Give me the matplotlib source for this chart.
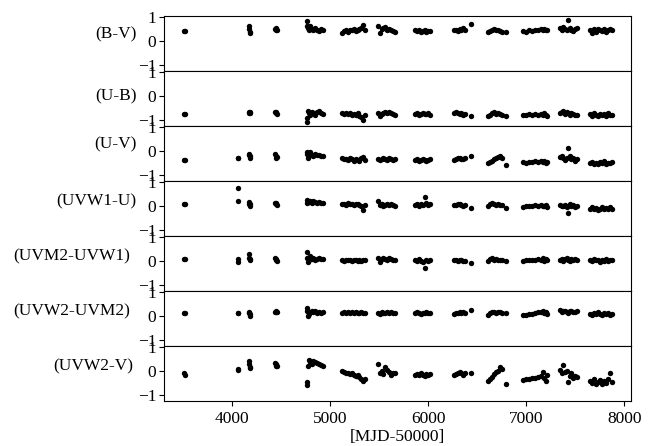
import numpy as np
import matplotlib
matplotlib.use("Agg")
import matplotlib.pyplot as plt

nan = np.nan

# observation epochs (MJD-50000)
mjd = [3515, 3522,
       4058, 4066,
       4170, 4175, 4180, 4185,
       4440, 4445, 4450, 4455,
       4762, 4768, 4775, 4785, 4800, 4815, 4830, 4850, 4870, 4890, 4910, 4930,
       5120, 5140, 5160, 5180, 5200, 5220, 5240, 5260, 5280, 5300, 5320, 5340, 5355,
       5490, 5505, 5525, 5545, 5565, 5585, 5605, 5625, 5645, 5660,
       5870, 5890, 5910, 5930, 5950, 5965, 5980, 6000, 6015,
       6260, 6280, 6300, 6320, 6340, 6360, 6380, 6440,
       6615, 6630, 6650, 6670, 6690, 6710, 6730, 6750, 6790,
       6970, 7000, 7030, 7060, 7090, 7120, 7150, 7170, 7185, 7200, 7210,
       7340, 7360, 7380, 7400, 7420, 7430, 7445, 7460, 7480, 7500, 7520,
       7655, 7675, 7695, 7715, 7735, 7755, 7775, 7795, 7815, 7835, 7855, 7870]

b_v = [0.44, 0.42,
       nan, nan,
       0.62, 0.52, 0.40, 0.33,
       0.52, 0.47, 0.55, 0.45,
       0.85, 0.65, 0.55, 0.45, 0.62, 0.50, 0.45, 0.55, 0.48, 0.42, 0.50, 0.47,
       0.35, 0.42, 0.45, 0.40, 0.47, 0.45, 0.50, 0.42, 0.47, 0.50, 0.55, 0.68, 0.45,
       0.62, 0.35, 0.50, 0.55, 0.58, 0.48, 0.52, 0.45, 0.42, 0.40,
       0.45, 0.42, 0.47, 0.40, 0.43, 0.45, 0.40, 0.42, 0.44,
       0.45, 0.48, 0.42, 0.50, 0.47, 0.55, 0.45, 0.72,
       0.38, 0.42, 0.47, 0.50, 0.45, 0.48, 0.43, 0.40, 0.37,
       0.42, 0.38, 0.45, 0.42, 0.47, 0.45, 0.50, 0.48, 0.52, 0.45, 0.48,
       0.55, 0.45, 0.60, 0.50, 0.45, 0.88, 0.55, 0.48, 0.42, 0.50, 0.53,
       0.48, 0.35, 0.52, 0.40, 0.50, 0.45, 0.42, 0.50, 0.38, 0.47, 0.52, 0.45]

u_b = [-0.74, -0.74,
       nan, nan,
       -0.66, -0.72, -0.70, -0.68,
       -0.65, -0.72, -0.68, -0.74,
       -1.08, -0.90, -0.62, -0.70, -0.78, -0.65, -0.72, -0.80, -0.68, -0.62, -0.70, -0.75,
       -0.72, -0.75, -0.70, -0.74, -0.72, -0.78, -0.75, -0.80, -0.72, -0.82, -0.88, -1.00, -0.78,
       -0.70, -0.82, -0.75, -0.70, -0.68, -0.72, -0.65, -0.72, -0.75, -0.78,
       -0.75, -0.72, -0.78, -0.74, -0.70, -0.76, -0.74, -0.72, -0.78,
       -0.70, -0.68, -0.72, -0.75, -0.72, -0.80, -0.76, -0.82,
       -0.82, -0.78, -0.72, -0.68, -0.74, -0.70, -0.76, -0.80, -0.82,
       -0.80, -0.78, -0.76, -0.80, -0.74, -0.78, -0.75, -0.80, -0.72, -0.78, -0.82,
       -0.70, -0.65, -0.62, -0.75, -0.68, -0.72, -0.78, -0.70, -0.75, -0.80, -0.78,
       -0.75, -0.82, -0.72, -0.78, -0.85, -0.74, -0.80, -0.76, -0.82, -0.72, -0.78, -0.80]

u_v = [-0.38, -0.38,
       -0.28, -0.30,
       -0.10, -0.18, -0.28, -0.22,
       -0.12, -0.20, -0.28, -0.25,
       -0.02, -0.10, -0.30, -0.18, -0.05, -0.15, -0.20, -0.12, -0.18, -0.15, -0.22, -0.20,
       -0.28, -0.35, -0.32, -0.38, -0.30, -0.35, -0.40, -0.33, -0.38, -0.42, -0.30, -0.25, -0.38,
       -0.32, -0.38, -0.35, -0.30, -0.32, -0.36, -0.30, -0.34, -0.38, -0.35,
       -0.38, -0.35, -0.40, -0.36, -0.33, -0.38, -0.42, -0.36, -0.35,
       -0.38, -0.35, -0.30, -0.28, -0.33, -0.35, -0.30, -0.20,
       -0.50, -0.45, -0.40, -0.35, -0.30, -0.25, -0.20, -0.30, -0.56,
       -0.45, -0.48, -0.44, -0.46, -0.42, -0.45, -0.40, -0.45, -0.42, -0.48, -0.44,
       -0.25, -0.20, -0.30, -0.38, -0.28, 0.14, -0.20, -0.35, -0.30, -0.40, -0.35,
       -0.50, -0.45, -0.52, -0.48, -0.55, -0.45, -0.50, -0.42, -0.52, -0.48, -0.50, -0.45]

uvw1_u = [0.07, 0.07,
          0.77, 0.23,
          0.18, 0.10, 0.02, 0.08,
          0.12, 0.08, 0.15, 0.05,
          0.25, 0.12, 0.20, 0.18, 0.22, 0.15, 0.20, 0.18, 0.15, 0.17, 0.12, 0.15,
          0.08, 0.10, 0.06, 0.12, 0.08, 0.10, 0.05, 0.08, 0.10, 0.05, 0.02, -0.18, 0.05,
          0.22, 0.05, 0.08, 0.02, 0.06, 0.10, 0.04, 0.08, 0.05, 0.02,
          0.05, 0.08, 0.02, 0.10, 0.06, 0.37, 0.12, 0.04, 0.08,
          0.03, 0.05, 0.08, 0.10, 0.05, 0.02, 0.05, -0.07,
          0.02, 0.08, 0.12, 0.10, 0.05, 0.08, 0.03, 0.05, -0.08,
          -0.02, 0.00, 0.02, 0.00, 0.03, 0.00, 0.05, 0.02, 0.00, 0.04, -0.02,
          0.05, 0.02, 0.00, 0.05, -0.05, -0.28, 0.08, 0.02, 0.05, -0.02, 0.00,
          -0.10, -0.05, -0.12, -0.08, -0.15, -0.10, -0.05, -0.12, -0.08, -0.10, -0.05, -0.12]

uvm2_uvw1 = [0.08, 0.10,
             0.08, -0.05,
             0.28, 0.15, 0.05, 0.10,
             0.15, 0.05, 0.10, 0.00,
             0.40, 0.15, -0.05, 0.05, 0.20, 0.08, 0.12, 0.05, 0.10, 0.15, 0.10, 0.08,
             0.05, 0.02, 0.05, 0.03, 0.06, 0.02, 0.04, 0.05, 0.02, 0.03, 0.00, 0.04, 0.03,
             0.12, -0.02, 0.08, 0.15, 0.10, 0.05, 0.12, 0.08, 0.05, 0.06,
             0.05, 0.00, 0.08, 0.02, -0.05, -0.28, 0.05, 0.02, 0.06,
             0.04, 0.06, 0.02, 0.05, 0.03, 0.00, 0.02, -0.10,
             0.02, 0.08, 0.12, 0.05, 0.10, 0.06, 0.03, 0.05, 0.02,
             0.02, 0.03, 0.05, 0.04, 0.06, 0.10, 0.05, 0.12, 0.00, 0.08, 0.04,
             0.05, 0.10, 0.02, 0.08, 0.12, 0.06, 0.00, 0.08, 0.05, 0.10, 0.06,
             0.05, 0.00, 0.08, 0.03, 0.06, -0.02, 0.05, 0.02, 0.08, 0.00, 0.05, 0.03]

uvw2_uvm2 = [0.11, 0.13,
             0.14, 0.14,
             0.18, 0.12, 0.00, 0.08,
             0.18, 0.15, 0.20, 0.17,
             0.35, 0.22, 0.00, 0.10, 0.18, 0.22, 0.15, 0.20, 0.12, 0.15, 0.14, 0.16,
             0.14, 0.15, 0.13, 0.15, 0.14, 0.16, 0.13, 0.15, 0.14, 0.12, 0.15, 0.13, 0.14,
             0.14, 0.10, 0.16, 0.14, 0.12, 0.15, 0.13, 0.16, 0.14, 0.12,
             0.12, 0.15, 0.13, 0.10, 0.14, 0.12, 0.15, 0.13, 0.11,
             0.10, 0.12, 0.14, 0.16, 0.13, 0.15, 0.12, 0.24,
             0.05, 0.12, 0.16, 0.18, 0.14, 0.17, 0.15, 0.12, 0.14,
             0.05, 0.06, 0.08, 0.10, 0.12, 0.15, 0.18, 0.20, 0.12, 0.16, 0.08,
             0.25, 0.18, 0.22, 0.20, 0.15, 0.12, 0.20, 0.22, 0.18, 0.15, 0.20,
             0.10, 0.05, 0.12, 0.08, 0.15, 0.10, 0.06, 0.12, 0.08, 0.13, 0.05, 0.10]

uvw2_v = [-0.08, -0.18,
          0.07, 0.05,
          0.42, 0.30, 0.18, 0.12,
          0.32, 0.22, 0.28, 0.20,
          -0.45, -0.60, 0.20, 0.45, 0.40, 0.30, 0.42, 0.38, 0.32, 0.28, 0.25, 0.20,
          0.00, -0.05, -0.08, -0.10, -0.12, -0.10, -0.15, -0.20, -0.18, -0.25, -0.32, -0.40, -0.35,
          0.30, -0.10, 0.00, -0.12, 0.15, 0.05, -0.05, -0.15, -0.08, -0.10,
          -0.15, -0.12, -0.18, -0.10, -0.15, -0.20, -0.12, -0.16, -0.14,
          -0.18, -0.12, -0.08, -0.05, -0.10, -0.15, -0.10, -0.10,
          -0.42, -0.35, -0.25, -0.12, -0.05, 0.00, 0.18, 0.08, -0.52,
          -0.38, -0.35, -0.32, -0.30, -0.28, -0.25, -0.20, -0.05, -0.30, -0.40, -0.15,
          0.05, -0.10, 0.25, -0.05, 0.00, -0.45, -0.20, -0.10, -0.30, -0.20, -0.25,
          -0.40, -0.50, -0.35, -0.55, -0.45, -0.38, -0.52, -0.42, -0.48, -0.35, -0.10, -0.45]

labels = ["(B-V)", "(U-B)", "(U-V)", "(UVW1-U)", "(UVM2-UVW1)", "(UVW2-UVM2)", "(UVW2-V)"]
series = [b_v, u_b, u_v, uvw1_u, uvm2_uvw1, uvw2_uvm2, uvw2_v]
yticks = [-1, 0, 1]
xticks = [4000, 5000, 6000, 7000, 8000]
xlabel = "[MJD-50000]"

plt.rcParams['font.family'] = ['Liberation Serif', 'DejaVu Serif']
plt.rcParams['font.size'] = 12.5

fig, axes = plt.subplots(len(series), 1, sharex=True, figsize=(6.5, 4.46), dpi=100)
fig.subplots_adjust(left=0.252, right=0.971, top=0.964, bottom=0.101, hspace=0)

label_y = [0.67, 0.54, 0.67, 0.63, 0.63, 0.63, 0.63]
label_x = [-0.058, -0.058, -0.058, -0.058, -0.073, -0.073, -0.066]
x = np.array(mjd, dtype=float)
for ax, ys, lab, lx, ly in zip(axes, series, labels, label_x, label_y):
    ax.scatter(x, np.array(ys, dtype=float), s=15, c='black', linewidths=0)
    ax.set_ylim(-1.25, 1.05)
    ax.set_yticks(yticks)
    ax.set_xlim(3305, 8070)
    ax.tick_params(axis='y', direction='out', length=3.5, width=0.8, labelsize=12.5, pad=2)
    ax.tick_params(axis='x', bottom=False, labelbottom=False)
    ax.set_ylabel(lab, rotation=0, ha='right', va='center', fontsize=12.5)
    ax.yaxis.set_label_coords(lx, ly)
    for sp in ax.spines.values():
        sp.set_linewidth(0.8)

axes[-1].set_xticks(xticks)
axes[-1].tick_params(axis='x', bottom=True, labelbottom=True, direction='out', length=3.5,
                     width=0.8, labelsize=12.5, pad=4)
axes[-1].set_xlabel(xlabel, fontsize=12.5, labelpad=1)

fig.savefig("out.png", dpi=100)
